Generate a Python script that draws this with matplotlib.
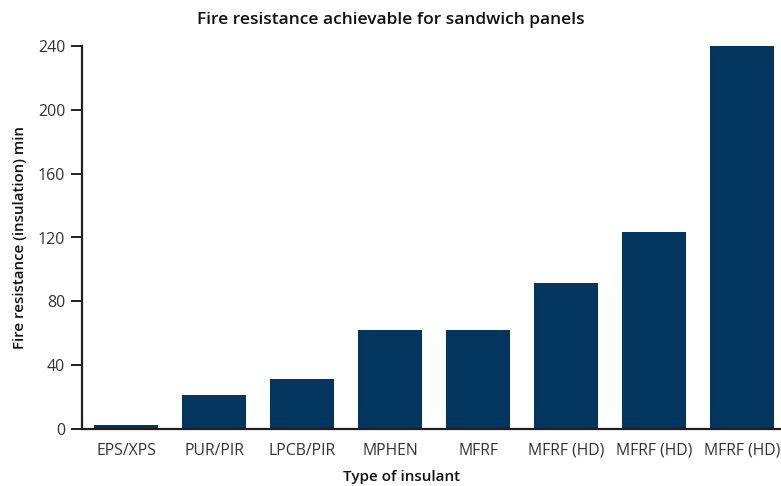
import matplotlib
matplotlib.use("Agg")
import matplotlib.pyplot as plt
import numpy as np

# data
categories = ["EPS/XPS", "PUR/PIR", "LPCB/PIR", "MPHEN", "MFRF",
              "MFRF (HD)", "MFRF (HD)", "MFRF (HD)"]
resistance = [2.5, 21.5, 31.5, 62, 62, 91.5, 123.5, 240]
yticks = [0, 40, 80, 120, 160, 200, 240]

bar_color = "#02365f"
text_color = "#333333"
axis_color = "#231f20"

plt.rcParams['font.family'] = ['Open Sans', 'DejaVu Sans']

fig = plt.figure(figsize=(7.81, 4.86), dpi=100)
ax = fig.add_axes([82/781, 1 - 429/486, (781 - 82)/781, (429 - 46)/486])

x = np.arange(len(categories))
ax.bar(x, resistance, width=0.727, color=bar_color, zorder=2)

ax.set_xlim(-0.5, 7.44)
ax.set_ylim(0, 240)
ax.set_yticks(yticks)
ax.set_xticks(x)
ax.set_xticklabels(categories)

for side in ["top", "right"]:
    ax.spines[side].set_visible(False)
for side in ["left", "bottom"]:
    ax.spines[side].set_color(axis_color)
    ax.spines[side].set_linewidth(1.6)
    ax.spines[side].set_zorder(3)

ax.tick_params(axis="y", length=8, width=1.4, color=axis_color,
               labelsize=11.5, labelcolor=text_color, pad=4)
ax.tick_params(axis="x", length=0, labelsize=11.3, labelcolor=text_color, pad=10)

ax.set_ylabel("Fire resistance (insulation) min", fontsize=10.8,
              fontweight="semibold", color="#111111", labelpad=8)
ax.set_xlabel("Type of insulant", fontsize=11, fontweight="semibold",
              color="#111111")
# label in the reference sits a bit left of the axes centre
ax.xaxis.set_label_coords((402 - 82) / 699, -48 / 383)
ax.xaxis.label.set_va("center")
fig.text(0.5, 1 - 20/486, "Fire resistance achievable for sandwich panels",
         ha="center", va="center", fontsize=12.5, fontweight="semibold",
         color="#111111")

fig.savefig("out.png", dpi=100)
